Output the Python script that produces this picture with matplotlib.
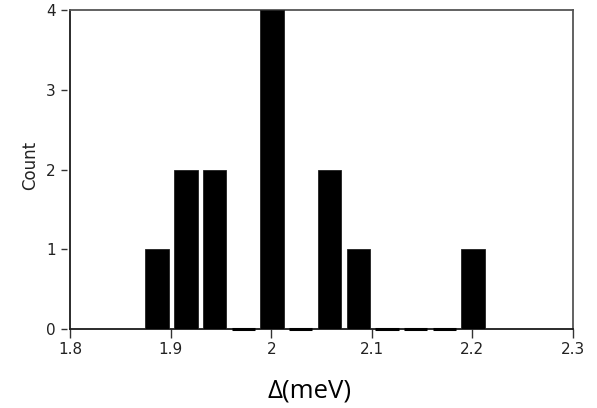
import matplotlib
matplotlib.use("Agg")
import matplotlib.pyplot as plt
from matplotlib.transforms import ScaledTranslation

# Histogram of gap values (meV): bin centres and counts
bin_centers = [1.8866, 1.9152, 1.9437, 1.9723, 2.0008, 2.0294,
               2.0580, 2.0865, 2.1151, 2.1436, 2.1722, 2.2007]
counts = [1, 2, 2, 0, 4, 0, 2, 1, 0, 0, 0, 1]
x_ticks = [1.8, 1.9, 2.0, 2.1, 2.2, 2.3]
x_tick_labels = ["1.8", "1.9", "2", "2.1", "2.2", "2.3"]
y_ticks = [0, 1, 2, 3, 4]

W, H = 597, 408
fig = plt.figure(figsize=(W / 100, H / 100), dpi=100)
ax = fig.add_axes([0.1173, 0.1936, 0.8425, 0.7812])

bar_width = 0.0232
nonzero = [(c, n) for c, n in zip(bin_centers, counts) if n > 0]
zero = [c for c, n in zip(bin_centers, counts) if n == 0]
ax.bar([c for c, _ in nonzero], [n for _, n in nonzero], width=bar_width,
       color="black", edgecolor="#202020", linewidth=0.6, zorder=3)
# empty bins show as a thick stroke on the baseline
for c in zero:
    ax.plot([c - bar_width / 2, c + bar_width / 2], [0, 0], color="black",
            linewidth=2.2, solid_capstyle="butt", zorder=4, clip_on=False)

ax.set_xlim(1.8, 2.3)
ax.set_ylim(0, 4)
ax.set_xticks(x_ticks)
ax.set_xticklabels(x_tick_labels)
ax.set_yticks(y_ticks)

for side in ("left", "bottom"):
    ax.spines[side].set_color("#1a1a1a")
    ax.spines[side].set_linewidth(1.3)
for side in ("top", "right"):
    ax.spines[side].set_color("#555555")
    ax.spines[side].set_linewidth(1.3)

tick_font = 11
ax.tick_params(axis="x", direction="out", length=6.5, width=1.0,
               color="#333333", labelsize=tick_font, labelcolor="#222222",
               pad=3)
# y ticks are short dashes set a little apart from the axis line
ax.tick_params(axis="y", length=0, labelsize=tick_font,
               labelcolor="#222222", pad=10.5)
dash_tr = ax.get_yaxis_transform() + ScaledTranslation(-6 / 100, 0,
                                                       fig.dpi_scale_trans)
ax.plot([0] * len(y_ticks), y_ticks, linestyle="none", marker="_",
        markersize=4.5, markeredgewidth=1.0, color="#333333",
        transform=dash_tr, clip_on=False)

fig.text(30 / W, 1 - 165 / H, "Count", rotation=90, fontsize=12,
         color="#222222", ha="center", va="center")
fig.text(310 / W, 1 - 397 / H, "Δ(meV)", fontsize=18.5,
         family=["Open Sans", "DejaVu Sans"], color="black",
         ha="center", va="baseline")

fig.savefig("out.png", dpi=100)
